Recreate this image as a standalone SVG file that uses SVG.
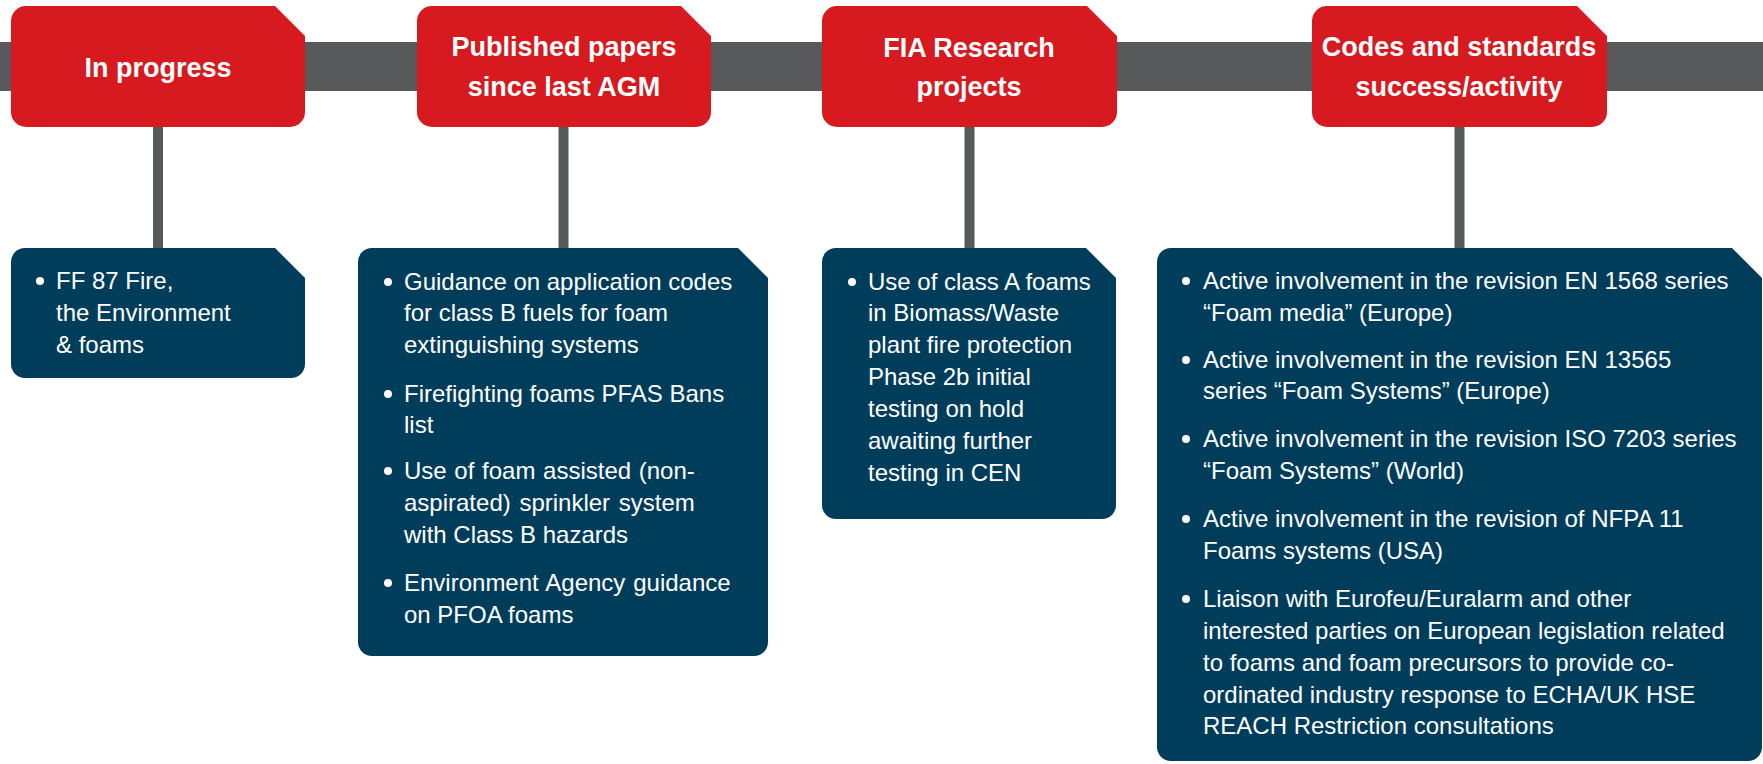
<svg xmlns="http://www.w3.org/2000/svg" width="1763" height="764" viewBox="0 0 1763 764">
<style>
.hdr{fill:#D71920}
.box{fill:#003D5B}
.ht{font-family:"Liberation Sans",Arial,sans-serif;font-weight:bold;font-size:27px;fill:#fff;text-anchor:middle}
.bt{font-family:"Liberation Sans",Arial,sans-serif;font-size:24px;fill:#fff}
.bl{fill:#fff}
.ln{fill:#58595B}
</style>
<rect width="1763" height="764" fill="#fff"/>
<g id="connectors">
<rect class="ln" x="0" y="42" width="1763" height="49"/>
<rect class="ln" x="153" y="120" width="10" height="135"/>
<rect class="ln" x="558.5" y="120" width="10" height="135"/>
<rect class="ln" x="964.5" y="120" width="10" height="135"/>
<rect class="ln" x="1454.5" y="120" width="10" height="135"/>
</g>
<g id="h1">
<path class="hdr" d="M26,6 H275 L305,36 V112 A15,15 0 0 1 290,127 H26 A15,15 0 0 1 11,112 V21 A15,15 0 0 1 26,6 Z"/>
<text class="ht" x="158" y="77">In progress</text>
</g>
<g id="h2">
<path class="hdr" d="M432,6 H681 L711,36 V112 A15,15 0 0 1 696,127 H432 A15,15 0 0 1 417,112 V21 A15,15 0 0 1 432,6 Z"/>
<text class="ht" x="564" y="56">Published papers</text>
<text class="ht" x="564" y="96">since last AGM</text>
</g>
<g id="h3">
<path class="hdr" d="M837,6 H1087 L1117,36 V112 A15,15 0 0 1 1102,127 H837 A15,15 0 0 1 822,112 V21 A15,15 0 0 1 837,6 Z"/>
<text class="ht" x="969" y="57">FIA Research</text>
<text class="ht" x="969" y="96">projects</text>
</g>
<g id="h4">
<path class="hdr" d="M1327,6 H1577 L1607,36 V112 A15,15 0 0 1 1592,127 H1327 A15,15 0 0 1 1312,112 V21 A15,15 0 0 1 1327,6 Z"/>
<text class="ht" x="1459" y="56">Codes and standards</text>
<text class="ht" x="1459" y="96">success/activity</text>
</g>
<g id="b1">
<path class="box" d="M25,248 H275 L305,278 V364 A14,14 0 0 1 291,378 H25 A14,14 0 0 1 11,364 V262 A14,14 0 0 1 25,248 Z"/>
<circle class="bl" cx="40" cy="281" r="4"/>
<text class="bt" x="56" y="289">FF 87 Fire,</text>
<text class="bt" x="56" y="321">the Environment</text>
<text class="bt" x="56" y="353">&amp; foams</text>
</g>
<g id="b2">
<path class="box" d="M372,248 H738 L768,278 V642 A14,14 0 0 1 754,656 H372 A14,14 0 0 1 358,642 V262 A14,14 0 0 1 372,248 Z"/>
<circle class="bl" cx="388" cy="282" r="4"/>
<text class="bt" x="404" y="290">Guidance on application codes</text>
<text class="bt" x="404" y="321">for class B fuels for foam</text>
<text class="bt" x="404" y="353">extinguishing systems</text>
<circle class="bl" cx="388" cy="394" r="4"/>
<text class="bt" x="404" y="402">Firefighting foams PFAS Bans</text>
<text class="bt" x="404" y="433">list</text>
<circle class="bl" cx="388" cy="471" r="4"/>
<text class="bt" x="404" y="479" word-spacing="1">Use of foam assisted (non-</text>
<text class="bt" x="404" y="511" word-spacing="2">aspirated) sprinkler system</text>
<text class="bt" x="404" y="543">with Class B hazards</text>
<circle class="bl" cx="388" cy="583" r="4"/>
<text class="bt" x="404" y="591" word-spacing="1.2">Environment Agency guidance</text>
<text class="bt" x="404" y="623">on PFOA foams</text>
</g>
<g id="b3">
<path class="box" d="M836,248 H1086 L1116,278 V505 A14,14 0 0 1 1102,519 H836 A14,14 0 0 1 822,505 V262 A14,14 0 0 1 836,248 Z"/>
<circle class="bl" cx="852" cy="282" r="4"/>
<text class="bt" x="868" y="290">Use of class A foams</text>
<text class="bt" x="868" y="321">in Biomass/Waste</text>
<text class="bt" x="868" y="353">plant fire protection</text>
<text class="bt" x="868" y="385">Phase 2b initial</text>
<text class="bt" x="868" y="417">testing on hold</text>
<text class="bt" x="868" y="449">awaiting further</text>
<text class="bt" x="868" y="481">testing in CEN</text>
</g>
<g id="b4">
<path class="box" d="M1171,248 H1732 L1762,278 V747 A14,14 0 0 1 1748,761 H1171 A14,14 0 0 1 1157,747 V262 A14,14 0 0 1 1171,248 Z"/>
<circle class="bl" cx="1186" cy="281" r="4"/>
<text class="bt" x="1203" y="289">Active involvement in the revision EN 1568 series</text>
<text class="bt" x="1203" y="321">“Foam media” (Europe)</text>
<circle class="bl" cx="1186" cy="360" r="4"/>
<text class="bt" x="1203" y="368">Active involvement in the revision EN 13565</text>
<text class="bt" x="1203" y="399">series “Foam Systems” (Europe)</text>
<circle class="bl" cx="1186" cy="439" r="4"/>
<text class="bt" x="1203" y="447">Active involvement in the revision ISO 7203 series</text>
<text class="bt" x="1203" y="479">“Foam Systems” (World)</text>
<circle class="bl" cx="1186" cy="519" r="4"/>
<text class="bt" x="1203" y="527">Active involvement in the revision of NFPA 11</text>
<text class="bt" x="1203" y="559">Foams systems (USA)</text>
<circle class="bl" cx="1186" cy="599" r="4"/>
<text class="bt" x="1203" y="607">Liaison with Eurofeu/Euralarm and other</text>
<text class="bt" x="1203" y="639">interested parties on European legislation related</text>
<text class="bt" x="1203" y="671">to foams and foam precursors to provide co-</text>
<text class="bt" x="1203" y="703">ordinated industry response to ECHA/UK HSE</text>
<text class="bt" x="1203" y="734">REACH Restriction consultations</text>
</g>
</svg>
